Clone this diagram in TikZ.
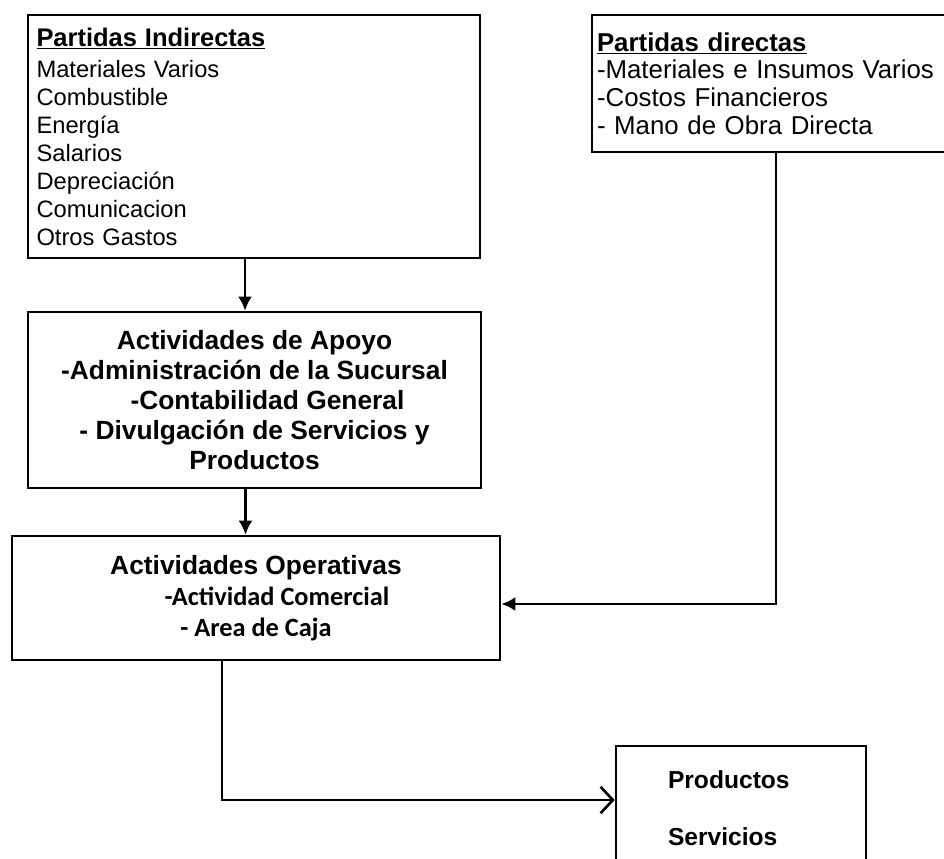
\documentclass[tikz,border=0pt]{standalone}
\usepackage{fontspec}
\setmainfont{Liberation Sans}
\newfontfamily\calibri{Carlito}
\usetikzlibrary{arrows.meta}

\tikzset{
  caja/.style={draw, line width=1.5pt, inner sep=0pt},
  flecha/.style={line width=1.5pt, -{Latex[length=8pt,width=8pt]}},
  abierta/.style={line width=1.5pt, -{Straight Barb[length=7pt,width=15pt,line width=1.5pt]}},
}

\begin{document}
\begin{tikzpicture}

  \useasboundingbox (0,0) rectangle (18.88,-17.16);

  % partidas
  \node[caja, minimum width=9.04cm, minimum height=4.86cm, text width=8.7cm,
    align=left, font=\fontsize{13.5}{15.9}\selectfont] (ind) at (5.08,-2.73)
    {{\fontsize{14.5}{17}\selectfont\bfseries\underline{Partidas Indirectas}}\\[2pt]
     Materiales Varios\\ Combustible\\ Energía\\ Salarios\\
     Depreciación\\ Comunicacion\\ Otros Gastos};

  \node[caja, minimum width=7.36cm, minimum height=2.74cm, text width=7.16cm,
    inner xsep=0.1cm, align=left, font=\fontsize{14.7}{15.8}\selectfont] (dir) at (15.52,-1.67)
    {{\bfseries\underline{Partidas directas}}\\
     -Materiales e Insumos Varios\\ -Costos Financieros\\ - Mano de Obra Directa};

  % actividades
  \node[caja, minimum width=9.06cm, minimum height=3.52cm, align=center,
    font=\fontsize{15}{17}\selectfont\bfseries] (apo) at (5.09,-8.0)
    {Actividades de Apoyo\\ -Administración de la Sucursal\\
     \hspace*{0.52cm}-Contabilidad General\\ - Divulgación de Servicios y\\ Productos};

  \node[caja, minimum width=9.76cm, minimum height=2.48cm, align=center,
    font=\fontsize{15}{17.5}\selectfont\bfseries] (ope) at (5.12,-11.96)
    {Actividades Operativas\\
     {\calibri\hspace*{0.84cm}-Actividad Comercial}\\
     {\calibri - Area de Caja}};

  % resultado
  \node[caja, minimum width=5cm, minimum height=2.48cm, text width=2.92cm,
    inner xsep=1.04cm, align=left, font=\fontsize{14}{16.8}\selectfont\bfseries] (pro) at (14.82,-16.16)
    {Productos\\[15.6pt] Servicios};

  \draw[flecha] ([xshift=-0.18cm]ind.south) -- ([xshift=-0.18cm]ind.south |- apo.north);
  \draw[flecha] ([xshift=-0.18cm]apo.south) -- ([xshift=-0.18cm]apo.south |- ope.north);
  \draw[flecha] (dir.south) |- ([yshift=-0.12cm]ope.east);
  \draw[abierta] ([xshift=-0.68cm]ope.south) |- ([yshift=0.16cm]pro.west);

\end{tikzpicture}
\end{document}
